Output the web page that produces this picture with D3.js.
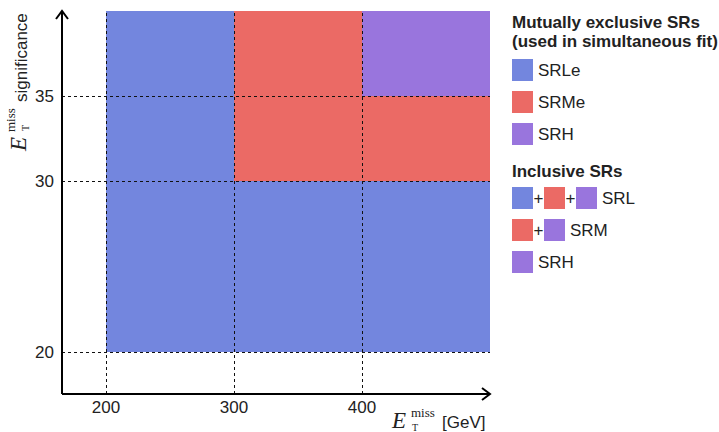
<!DOCTYPE html>
<html><head><meta charset="utf-8">
<script src="https://cdn.jsdelivr.net/npm/d3@7"></script>
<style>body{margin:0;background:#fff}svg{display:block;font-family:"Liberation Sans",Arial,sans-serif}</style>
</head><body><svg id="c" width="719" height="432"></svg>
<script>
// ---- data ----
const xTicks = [200, 300, 400];
const yTicks = [20, 30, 35];
const regionNames = ["SRLe", "SRLe", "SRMe", "SRMe", "SRH"];
const regionX0 = [200, 300, 300, 400, 400];
const regionX1 = [300, 500, 400, 500, 500];
const regionY0 = [20, 20, 30, 30, 35];
const regionY1 = [40, 30, 40, 35, 40];
const exclusiveLegend = ["SRLe", "SRMe", "SRH"];
const inclusiveLegend = [
  {label: "SRL", parts: ["SRLe", "SRMe", "SRH"]},
  {label: "SRM", parts: ["SRMe", "SRH"]},
  {label: "SRH", parts: ["SRH"]}
];
const colors = {SRLe: "#7386de", SRMe: "#eb6a65", SRH: "#9975dd"};

const svg = d3.select("#c");
const x = d3.scaleLinear().domain([165.6, 500]).range([62, 490]);
const y = d3.scaleLinear().domain([17.53, 40]).range([394, 11]);

// regions
const regions = regionNames.map((n, i) => ({n, x0: regionX0[i], x1: regionX1[i], y0: regionY0[i], y1: regionY1[i]}));
svg.append("g").selectAll("rect").data(regions).join("rect")
  .attr("x", d => x(d.x0)).attr("width", d => x(d.x1) - x(d.x0))
  .attr("y", d => y(d.y1)).attr("height", d => y(d.y0) - y(d.y1))
  .attr("fill", d => colors[d.n]).attr("shape-rendering", "crispEdges");

// dashed grid
const grid = svg.append("g").attr("stroke", "#111").attr("stroke-width", 1).attr("stroke-dasharray", "3,3");
grid.selectAll(".v").data(xTicks).join("line")
  .attr("x1", d => Math.round(x(d)) + 0.5).attr("x2", d => Math.round(x(d)) + 0.5)
  .attr("y1", y(17.53)).attr("y2", y(40));
grid.selectAll(".h").data(yTicks).join("line")
  .attr("y1", d => Math.round(y(d)) + 0.5).attr("y2", d => Math.round(y(d)) + 0.5)
  .attr("x1", x(165.6)).attr("x2", x(500));

// axes with arrows
const ax = svg.append("g").attr("stroke", "#000").attr("stroke-width", 2).attr("fill", "none");
ax.append("path").attr("d", `M${x(165.6)},${y(17.53)}H${x(500)-1}`);
ax.append("path").attr("d", `M${x(165.6)},${y(17.53)}V${y(40)+1}`);
ax.append("path").attr("d", `M${x(500)-8},${y(17.53)-6}L${x(500)},${y(17.53)}L${x(500)-8},${y(17.53)+6}`);
ax.append("path").attr("d", `M${x(165.6)-6},${y(40)+8}L${x(165.6)},${y(40)}L${x(165.6)+6},${y(40)+8}`);

// tick labels
svg.append("g").selectAll("text").data(xTicks).join("text")
  .attr("x", d => x(d)).attr("y", 413).attr("text-anchor", "middle")
  .attr("font-size", 17).attr("fill", "#222").text(d => d);
svg.append("g").selectAll("text").data(yTicks).join("text")
  .attr("x", 54).attr("y", d => y(d) + 6).attr("text-anchor", "end")
  .attr("font-size", 17).attr("fill", "#222").text(d => d);

// axis titles
const serif = "'Liberation Serif','DejaVu Serif',serif";
function met(g) {
  g.append("text").attr("x", -1).attr("y", 0).attr("font-family", serif).attr("font-style", "italic").attr("font-size", 23).text("E");
  g.append("text").attr("x", 18).attr("y", -11).attr("font-family", serif).attr("font-size", 13).text("miss");
  g.append("text").attr("x", 19).attr("y", 2.5).attr("font-family", serif).attr("font-size", 10).text("T");
}
const xl = svg.append("g").attr("transform", "translate(393,428)").attr("fill", "#222");
met(xl);
xl.append("text").attr("x", 49).attr("y", 0).attr("font-size", 17).text("[GeV]");

const yl = svg.append("g").attr("transform", "translate(26,150) rotate(-90)").attr("fill", "#222");
met(yl);
yl.append("text").attr("x", 48).attr("y", 1).attr("font-size", 17).text("significance");

// legend
const lg = svg.append("g").attr("fill", "#222");
lg.append("text").attr("x", 512).attr("y", 28).attr("font-size", 17).attr("font-weight", "bold").text("Mutually exclusive SRs");
lg.append("text").attr("x", 512).attr("y", 47).attr("font-size", 17).attr("font-weight", "bold").text("(used in simultaneous fit)");
const ex = lg.selectAll(".ex").data(exclusiveLegend).join("g").attr("transform", (d, i) => `translate(512,${59 + i * 32})`);
ex.append("rect").attr("width", 21).attr("height", 22).attr("fill", d => colors[d]);
ex.append("text").attr("x", 26).attr("y", 17).attr("font-size", 17).text(d => d);

lg.append("text").attr("x", 512).attr("y", 177).attr("font-size", 17).attr("font-weight", "bold").text("Inclusive SRs");
const inc = lg.selectAll(".inc").data(inclusiveLegend).join("g").attr("transform", (d, i) => `translate(512,${187 + i * 32})`);
inc.each(function(d) {
  const g = d3.select(this);
  d.parts.forEach((p, j) => {
    g.append("rect").attr("x", j * 32).attr("width", 21).attr("height", 22).attr("fill", colors[p]);
    if (j < d.parts.length - 1) g.append("text").attr("x", j * 32 + 21.5).attr("y", 17).attr("font-size", 17).text("+");
  });
  g.append("text").attr("x", (d.parts.length - 1) * 32 + 26).attr("y", 17).attr("font-size", 17).text(d.label);
});
</script></body></html>
